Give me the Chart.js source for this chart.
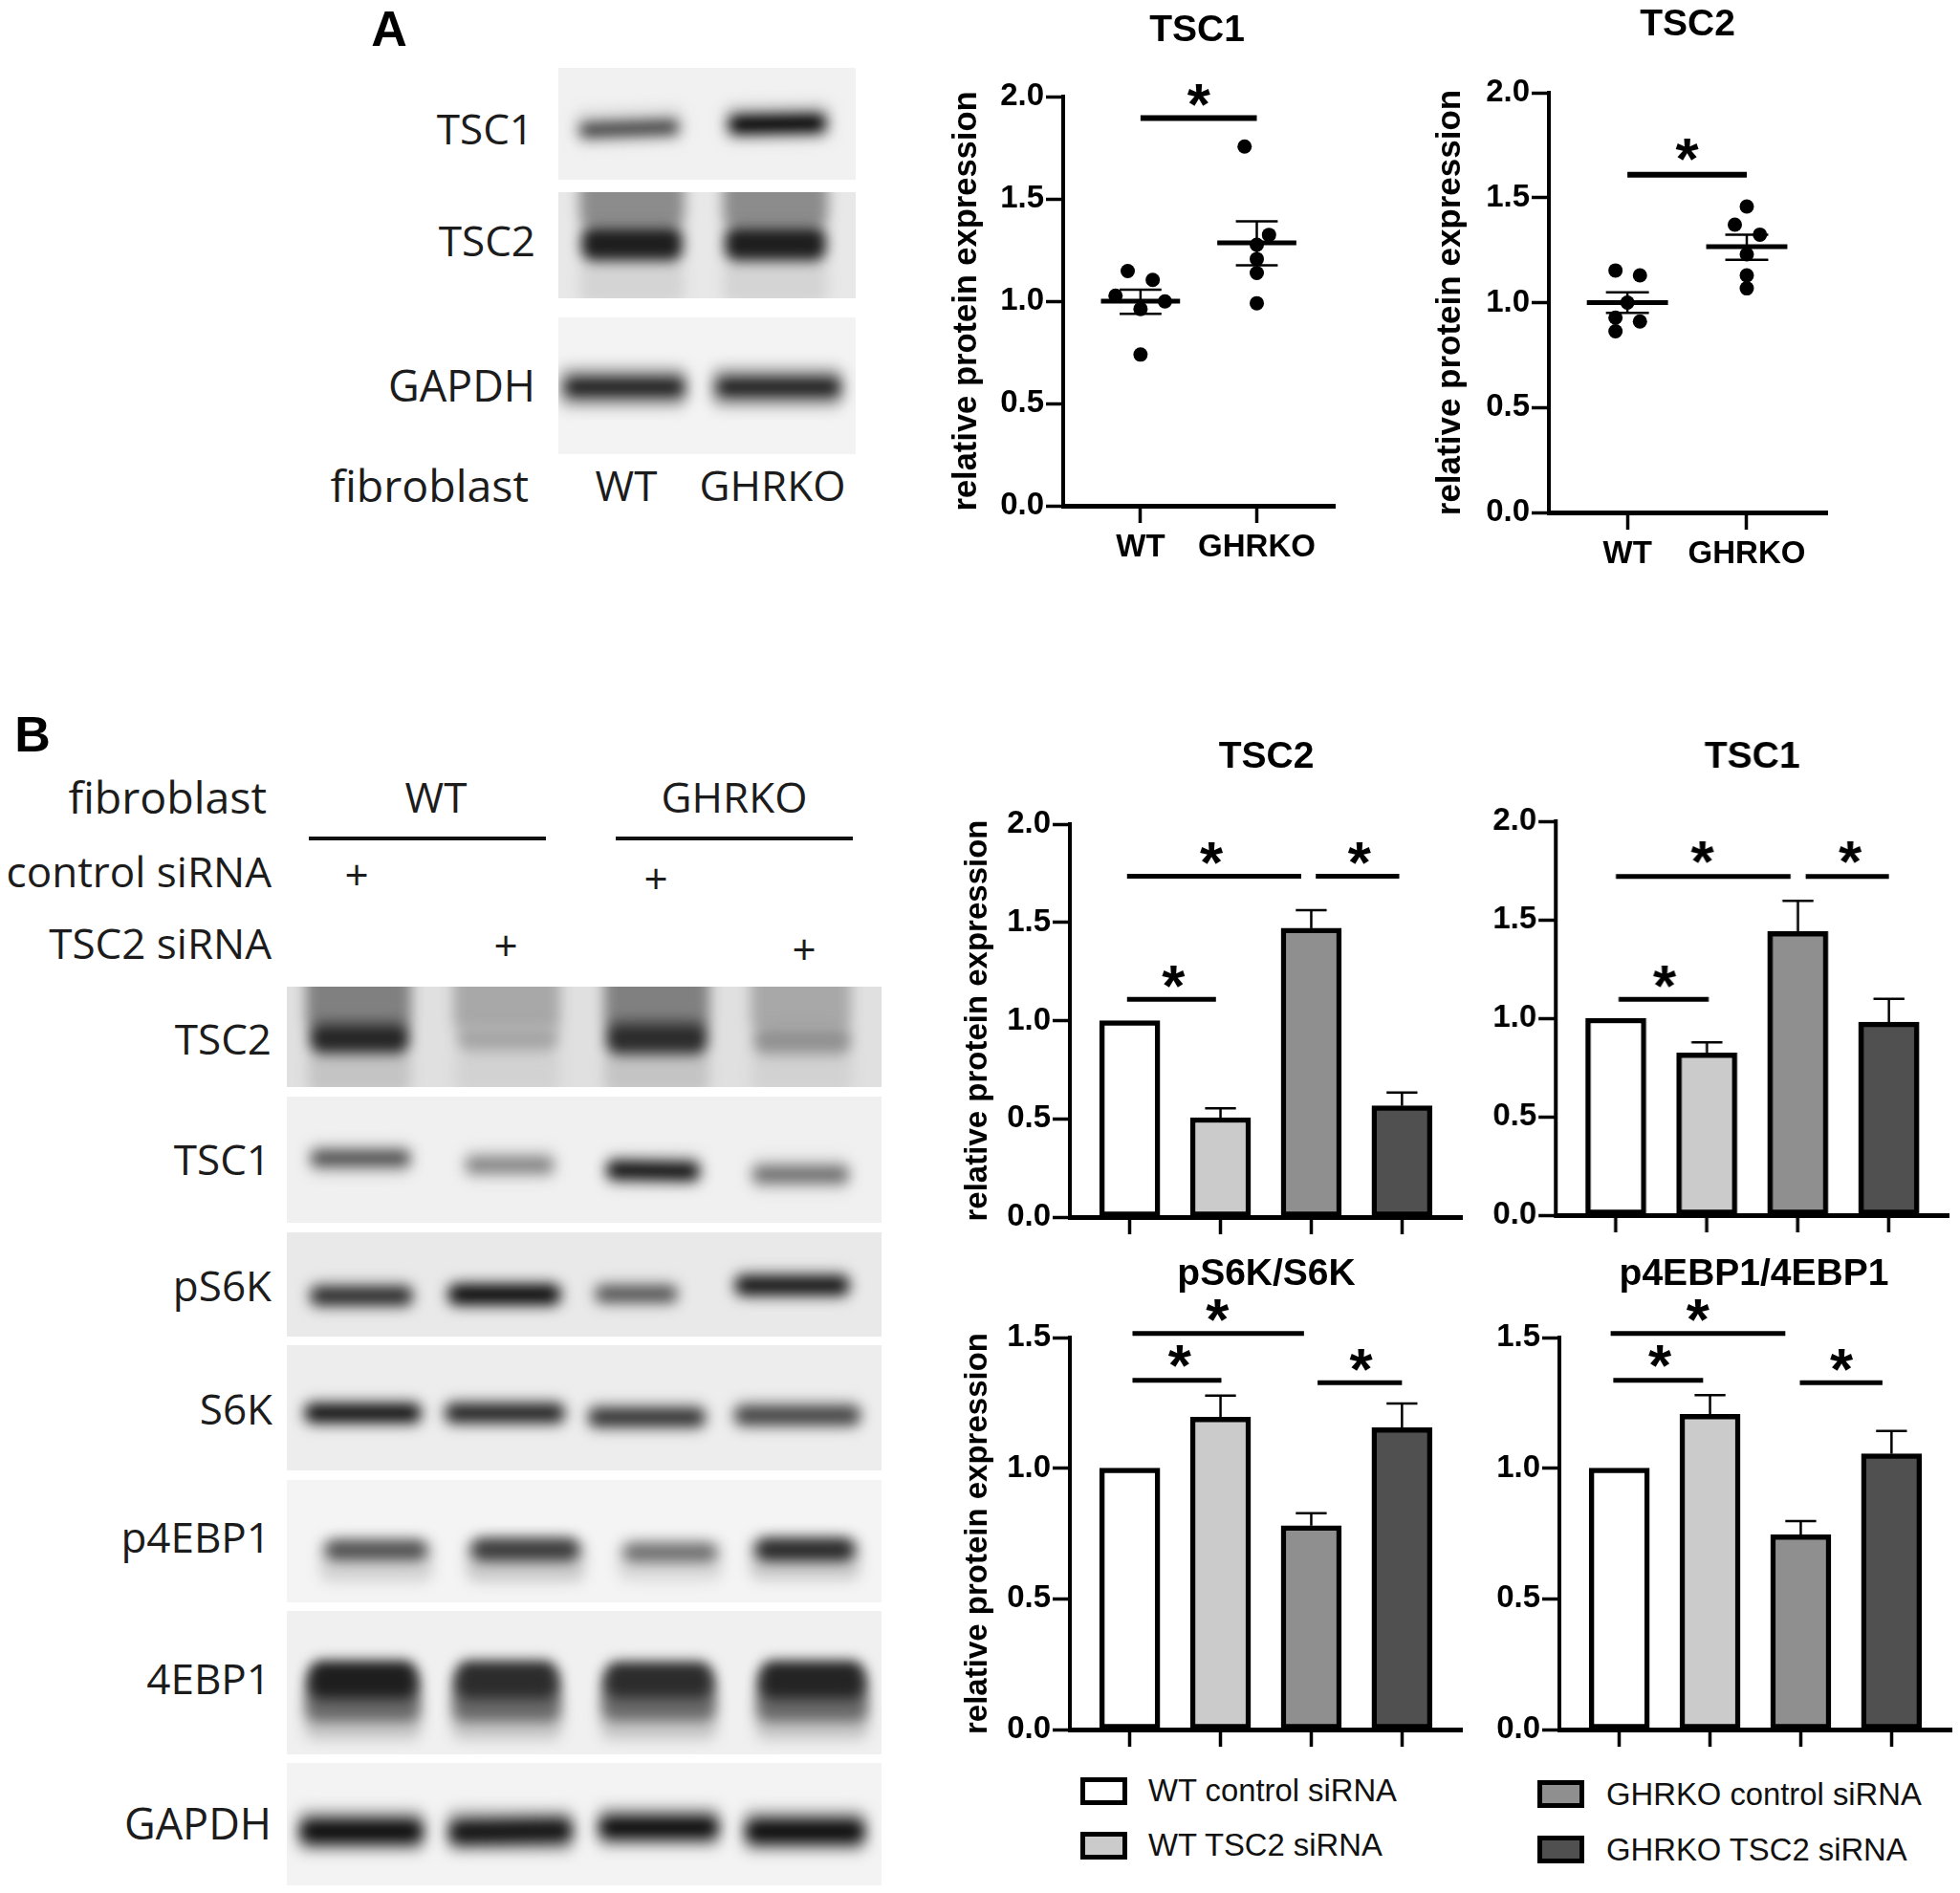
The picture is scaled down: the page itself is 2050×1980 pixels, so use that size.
<!DOCTYPE html>
<html>
<head>
<meta charset="utf-8">
<title>TSC1 / TSC2</title>
<script src="https://cdn.jsdelivr.net/npm/chart.js@4"></script>
<style>
  html, body { margin: 0; padding: 0; background: #fff; }
  #lienzo { position: relative; width: 2050px; height: 1980px; overflow: hidden; }
  canvas { position: absolute; }
  .txt { position: absolute; white-space: nowrap; font-family: "Open Sans", sans-serif; font-size: 44px; color: #1c1c1c; transform: translateY(-50%); line-height: 1; }
  .blot { position: absolute; overflow: hidden; }
  .banda { position: absolute; border-radius: 12px; filter: blur(7px); }
</style>
</head>
<body>
<div id="lienzo"></div>
<script>
// ===== DATOS PANEL A =====
const gruposA = ["WT", "GHRKO"];
const posGruposA = [1, 2];
const ticksY20 = [0, 0.5, 1, 1.5, 2];
const ticksY15 = [0, 0.5, 1, 1.5];
const ticksBarras = [0, 1, 2, 3];

const tsc1AX = [0.89, 1.105, 0.785, 1.21, 1, 1, 1.895, 2.105, 2, 2, 2, 2];
const tsc1AY = [1.147, 1.104, 1.027, 0.999, 0.962, 0.739, 1.756, 1.324, 1.276, 1.206, 1.138, 0.99];
const tsc1AMedia = [1.0, 1.285];
const tsc1ASup = [1.056, 1.39];
const tsc1AInf = [0.938, 1.175];
const tsc1ASig = [[1, 2, 1.895]];
const tsc1AEst = [[1.5, 2.0]];

const tsc2AX = [0.9, 1.105, 1, 0.9, 1.105, 0.9, 2, 1.9, 2.11, 2, 2, 2];
const tsc2AY = [1.153, 1.13, 1.0, 0.928, 0.91, 0.863, 1.458, 1.371, 1.324, 1.23, 1.13, 1.068];
const tsc2AMedia = [1.0, 1.267];
const tsc2ASup = [1.049, 1.324];
const tsc2AInf = [0.951, 1.204];
const tsc2ASig = [[1, 2, 1.609]];
const tsc2AEst = [[1.5, 1.72]];

// ===== DATOS PANEL B =====
const nombresBarras = ["WT control siRNA", "WT TSC2 siRNA", "GHRKO control siRNA", "GHRKO TSC2 siRNA"];
const coloresBarras = ["#ffffff", "#cbcbcb", "#8f8f8f", "#505050"];

const tsc2BValores = [1.0, 0.506, 1.47, 0.566];
const tsc2BError = [null, 0.554, 1.562, 0.634];
const tsc2BSig = [[-0.03, 1.89, 1.735], [2.05, 2.97, 1.735], [-0.03, 0.95, 1.108]];
const tsc2BEst = [[0.9, 1.845], [2.53, 1.845], [0.48, 1.218]];

const tsc1BValores = [1.0, 0.824, 1.44, 0.98];
const tsc1BError = [null, 0.878, 1.596, 1.098];
const tsc1BSig = [[0, 1.92, 1.72], [2.085, 3, 1.72], [0.03, 1.02, 1.096]];
const tsc1BEst = [[0.95, 1.835], [2.575, 1.835], [0.534, 1.205]];

const s6kValores = [1.0, 1.195, 0.78, 1.155];
const s6kError = [null, 1.278, 0.828, 1.248];
const s6kSig = [[0.03, 1.92, 1.516], [0.03, 1.01, 1.336], [2.07, 3, 1.327]];
const s6kEst = [[0.967, 1.597], [0.55, 1.425], [2.55, 1.41]];

const ebpValores = [1.0, 1.206, 0.745, 1.055];
const ebpError = [null, 1.28, 0.798, 1.142];
const ebpSig = [[-0.095, 1.83, 1.516], [-0.066, 0.924, 1.336], [1.99, 2.9, 1.327]];
const ebpEst = [[0.866, 1.597], [0.447, 1.425], [2.45, 1.41]];

const FUENTE = '"Liberation Sans", Arial, sans-serif';
const lienzo = document.getElementById("lienzo");

// ===== TEXTO SUELTO =====
function texto(str, pos, extra) {
    const d = document.createElement("div");
    d.className = "txt";
    d.textContent = str;
    d.style.top = pos.y + "px";
    if (pos.l !== undefined) d.style.left = pos.l + "px";
    if (pos.r !== undefined) d.style.right = (2050 - pos.r) + "px";
    if (pos.c !== undefined) { d.style.left = pos.c + "px"; d.style.transform = "translate(-50%,-50%)"; }
    if (extra) Object.assign(d.style, extra);
    lienzo.appendChild(d);
}

// ===== WESTERN BLOTS (fondo + bandas difuminadas) =====
function blot(x0, x1, y0, y1, fondo, bandas) {
    const d = document.createElement("div");
    d.className = "blot";
    d.style.cssText = `left:${x0}px;top:${y0}px;width:${x1 - x0}px;height:${y1 - y0}px;background:${fondo}`;
    bandas.forEach(b => {
        const e = document.createElement("div");
        e.className = "banda";
        e.style.cssText = `left:${b[0] - x0}px;top:${b[2] - b[3] / 2 - y0}px;width:${b[1] - b[0]}px;height:${b[3]}px;background:${b[4]}`;
        if (b[5]) e.style.transform = `rotate(${b[5]}deg)`;
        d.appendChild(e);
    });
    lienzo.appendChild(d);
}

// Panel A
blot(584, 895, 71, 187.5, "#f1f1f1", [
    [600, 716, 132, 38, "#dadada", -2], [606, 710, 134, 15, "#3c3c3c", -2],
    [756, 870, 128, 40, "#cccccc", -1], [762, 864, 129, 19, "#000", -1]]);
blot(584, 895, 201, 312, "#e8e8e8", [
    [606, 716, 296, 44, "#d4d4d4"], [606, 716, 200, 76, "#8c8c8c"], [608, 714, 255, 36, "#1e1e1e"],
    [756, 866, 296, 44, "#d4d4d4"], [756, 866, 200, 76, "#8c8c8c"], [758, 864, 255, 36, "#1e1e1e"]]);
blot(584, 895, 332, 475, "#f3f3f3", [
    [584, 720, 405, 44, "#b4b4b4"], [590, 716, 405, 20, "#1e1e1e"],
    [743, 883, 405, 44, "#b4b4b4"], [749, 879, 405, 20, "#1e1e1e"]]);

// Panel B
const X0B = 300, X1B = 922;
blot(X0B, X1B, 1032, 1137, "#e0e0e0", [
    [322, 430, 1122, 44, "#c4c4c4"], [320, 430, 1040, 76, "#808080"], [324, 428, 1086, 32, "#262626"],
    [476, 586, 1122, 44, "#d2d2d2"], [474, 586, 1040, 76, "#a8a8a8"], [478, 584, 1086, 28, "#a6a6a6"],
    [632, 742, 1122, 44, "#c4c4c4"], [632, 742, 1040, 76, "#808080"], [634, 740, 1086, 34, "#2c2c2c"],
    [786, 892, 1122, 44, "#d2d2d2"], [785, 890, 1040, 76, "#a8a8a8"], [788, 890, 1088, 30, "#929292"]]);
blot(X0B, X1B, 1147, 1279, "#f0f0f0", [
    [322, 432, 1212, 32, "#c8c8c8"], [326, 428, 1211, 13, "#3c3c3c"],
    [484, 582, 1218, 32, "#d2d2d2"], [488, 578, 1218, 13, "#787878"],
    [632, 735, 1224, 34, "#c0c0c0"], [635, 731, 1224, 17, "#080808", 1],
    [784, 890, 1228, 34, "#d2d2d2"], [788, 887, 1228, 15, "#666"]]);
blot(X0B, X1B, 1289, 1398, "#e9e9e9", [
    [322, 434, 1355, 30, "#b0b0b0"], [326, 430, 1355, 15, "#1c1c1c"],
    [466, 589, 1354, 30, "#b0b0b0"], [470, 585, 1354, 18, "#040404"],
    [620, 711, 1353, 28, "#c0c0c0"], [624, 707, 1353, 13, "#444"],
    [766, 891, 1344, 30, "#b0b0b0"], [770, 887, 1344, 17, "#0c0c0c"]]);
blot(X0B, X1B, 1407, 1538, "#ededed", [
    [316, 443, 1478, 30, "#b4b4b4"], [320, 439, 1478, 16, "#040404"],
    [463, 593, 1478, 30, "#b4b4b4"], [467, 589, 1478, 16, "#181818"],
    [613, 740, 1482, 30, "#b4b4b4"], [617, 736, 1482, 15, "#242424"],
    [766, 902, 1480, 30, "#b4b4b4"], [770, 898, 1480, 15, "#363636"]]);
blot(X0B, X1B, 1548, 1675.5, "#f4f4f4", [
    [334, 453, 1632, 46, "#d4d4d4"], [340, 447, 1621, 21, "#505050"],
    [487, 612, 1632, 46, "#cccccc"], [493, 606, 1621, 24, "#3c3c3c"],
    [646, 756, 1632, 44, "#dadada"], [652, 750, 1624, 20, "#707070"],
    [784, 900, 1630, 46, "#cccccc"], [790, 894, 1621, 24, "#2a2a2a"]]);
blot(X0B, X1B, 1685, 1834.5, "#f0f0f0", [
    [318, 441, 1795, 50, "#c8c8c8"], [320, 439, 1774, 54, "#6a6a6a"], [324, 435, 1757, 40, "#1e1e1e"],
    [472, 588, 1795, 50, "#c8c8c8"], [474, 586, 1774, 54, "#6a6a6a"], [478, 582, 1757, 40, "#2c2c2c"],
    [628, 750, 1795, 50, "#c8c8c8"], [630, 748, 1774, 52, "#6a6a6a"], [634, 744, 1757, 38, "#2c2c2c"],
    [790, 909, 1795, 50, "#c8c8c8"], [792, 907, 1774, 54, "#6a6a6a"], [796, 903, 1757, 40, "#242424"]]);
blot(X0B, X1B, 1844, 1972, "#f3f3f3", [
    [310, 446, 1915, 46, "#b4b4b4"], [314, 442, 1915, 25, "#101010"],
    [466, 602, 1915, 46, "#b4b4b4"], [470, 598, 1915, 25, "#161616", -1],
    [623, 755, 1911, 44, "#b4b4b4"], [627, 751, 1911, 23, "#0e0e0e"],
    [776, 908, 1915, 46, "#b4b4b4"], [780, 904, 1915, 25, "#101010"]]);

// Etiquetas de los blots
texto("A", { c: 407, y: 30 }, { font: `bold 52px ${FUENTE}`, color: "#000" });
texto("B", { c: 34, y: 768 }, { font: `bold 52px ${FUENTE}`, color: "#000" });
texto("TSC1", { r: 558, y: 134 });
texto("TSC2", { r: 560, y: 251 });
texto("GAPDH", { r: 560, y: 402 }, { fontSize: "45px" });
texto("fibroblast", { r: 553, y: 507 }, { fontSize: "46.5px" });
texto("WT", { c: 655, y: 507 });
texto("GHRKO", { c: 808, y: 507 });

texto("fibroblast", { r: 279, y: 833 }, { fontSize: "46.5px" });
texto("WT", { c: 456, y: 833 });
texto("GHRKO", { c: 768, y: 833 });
texto("control siRNA", { r: 284, y: 911 });
texto("TSC2 siRNA", { r: 284, y: 986 });
texto("+", { c: 373, y: 914 });
texto("+", { c: 529, y: 988 });
texto("+", { c: 686, y: 918 });
texto("+", { c: 841, y: 992 });
texto("TSC2", { r: 284, y: 1086 });
texto("TSC1", { r: 283, y: 1212 });
texto("pS6K", { r: 284, y: 1344 });
texto("S6K", { r: 285, y: 1473 });
texto("p4EBP1", { r: 283, y: 1607 });
texto("4EBP1", { r: 283, y: 1755 });
texto("GAPDH", { r: 284, y: 1906 }, { fontSize: "45px" });

[[323, 571], [644, 892]].forEach(l => {
    const d = document.createElement("div");
    d.style.cssText = `position:absolute;left:${l[0]}px;top:875px;width:${l[1] - l[0]}px;height:3.5px;background:#111`;
    lienzo.appendChild(d);
});

// ===== LEYENDA =====
const posLeyenda = [[1130, 1859, 1201, 1873], [1130, 1916, 1201, 1930], [1608, 1862, 1680, 1877], [1608, 1920, 1680, 1935]];
nombresBarras.forEach((nombre, i) => {
    const p = posLeyenda[i];
    const caja = document.createElement("div");
    caja.style.cssText = `position:absolute;box-sizing:border-box;left:${p[0]}px;top:${p[1]}px;width:49px;height:29px;border:5px solid #000;background:${coloresBarras[i]}`;
    lienzo.appendChild(caja);
    texto(nombre, { l: p[2], y: p[3] }, { font: `32.8px ${FUENTE}`, color: "#111" });
});

// ===== PLUGIN: títulos, errores, barras de significancia =====
function marcas(cfg) {
    return {
        id: "marcas",
        afterDatasetsDraw(chart) {
            const ctx = chart.ctx, xs = chart.scales.x, ys = chart.scales.y;
            ctx.save();
            ctx.strokeStyle = "#000";
            ctx.fillStyle = "#000";
            const linea = (x0, y0, x1, y1, w) => {
                ctx.lineWidth = w;
                ctx.beginPath(); ctx.moveTo(x0, y0); ctx.lineTo(x1, y1); ctx.stroke();
            };

            // Media +- SEM (graficos de puntos)
            if (cfg.media) {
                cfg.media.forEach((m, i) => {
                    const cx = posGruposA[i];
                    const px = xs.getPixelForValue(cx), sup = ys.getPixelForValue(cfg.sup[i]), inf = ys.getPixelForValue(cfg.inf[i]);
                    linea(xs.getPixelForValue(cx - 0.34), ys.getPixelForValue(m), xs.getPixelForValue(cx + 0.34), ys.getPixelForValue(m), 5);
                    linea(px, sup, px, inf, 2.5);
                    linea(xs.getPixelForValue(cx - 0.18), sup, xs.getPixelForValue(cx + 0.18), sup, 2.5);
                    linea(xs.getPixelForValue(cx - 0.18), inf, xs.getPixelForValue(cx + 0.18), inf, 2.5);
                });
            }

            // Error superior (graficos de barras)
            if (cfg.error) {
                cfg.error.forEach((e, i) => {
                    if (e === null) return;
                    const px = xs.getPixelForValue(i), sup = ys.getPixelForValue(e);
                    linea(px, ys.getPixelForValue(cfg.valores[i]), px, sup, 2.5);
                    linea(xs.getPixelForValue(i - 0.17), sup, xs.getPixelForValue(i + 0.17), sup, 2.5);
                });
            }

            // Lineas de significancia y asteriscos
            cfg.sig.forEach(s => linea(xs.getPixelForValue(s[0]), ys.getPixelForValue(s[2]), xs.getPixelForValue(s[1]), ys.getPixelForValue(s[2]), cfg.grosorSig));
            ctx.font = `bold 62px ${FUENTE}`;
            ctx.textAlign = "center";
            ctx.textBaseline = "alphabetic";
            cfg.est.forEach(e => ctx.fillText("*", xs.getPixelForValue(e[0]), ys.getPixelForValue(e[1]) + 29));

            // Titulo
            ctx.font = `bold 39px ${FUENTE}`;
            ctx.textBaseline = "middle";
            ctx.fillText(cfg.titulo, cfg.tituloX - cfg.left, cfg.tituloY - cfg.top);
            ctx.restore();
        }
    };
}

// ===== CREACION DE CADA GRAFICO =====
function crearGrafico(cfg) {
    const SUP = 100, INF = 72, DER = 10;
    const anchoEje = cfg.distTitulo + 20;
    const can = document.createElement("canvas");
    cfg.left = cfg.L - anchoEje;
    cfg.top = cfg.T - SUP;
    const w = cfg.R - cfg.L + anchoEje + DER, h = cfg.B - cfg.T + SUP + INF;
    can.width = w; can.height = h;
    can.style.cssText = `left:${cfg.left}px;top:${cfg.top}px;width:${w}px;height:${h}px`;
    lienzo.appendChild(can);

    new Chart(can, {
        type: cfg.tipo,
        data: { datasets: cfg.datasets },
        options: {
            responsive: false,
            animation: false,
            devicePixelRatio: 1,
            layout: { autoPadding: false, padding: { top: SUP, right: DER, left: 0, bottom: 0 } },
            plugins: { legend: { display: false }, tooltip: { enabled: false } },
            scales: {
                x: {
                    type: "linear",
                    offset: false,
                    min: cfg.xMin,
                    max: cfg.xMax,
                    afterBuildTicks: s => { s.ticks = cfg.xTicks.map(v => ({ value: v })); },
                    afterFit: s => { s.height = INF; },
                    grid: { display: true, offset: false, drawOnChartArea: false, tickLength: 18, tickWidth: 3.5, tickColor: "#000" },
                    border: { display: true, width: 5, color: "#000" },
                    ticks: {
                        autoSkip: false, maxRotation: 0, padding: 6, color: "#000",
                        font: { family: FUENTE, size: 33, weight: "bold" },
                        callback: (v, i) => (cfg.xNombres ? cfg.xNombres[i] : "")
                    }
                },
                y: {
                    min: 0,
                    max: cfg.yTicks[cfg.yTicks.length - 1],
                    afterBuildTicks: s => { s.ticks = cfg.yTicks.map(v => ({ value: v })); },
                    afterFit: s => { s.width = anchoEje; },
                    grid: { display: true, drawOnChartArea: false, tickLength: 18, tickWidth: 3.5, tickColor: "#000" },
                    border: { display: true, width: 4, color: "#000" },
                    ticks: {
                        padding: 2, color: "#000",
                        font: { family: FUENTE, size: 33, weight: "bold" },
                        callback: v => v.toFixed(1)
                    },
                    title: {
                        display: cfg.conTituloY, text: "relative protein expression", color: "#000", padding: 0,
                        font: { family: FUENTE, size: cfg.tamTituloY, weight: "bold" }
                    }
                }
            }
        },
        plugins: [marcas(cfg)]
    });
}

function puntos(xv, yv) {
    return [{ data: xv.map((x, i) => ({ x: x, y: yv[i] })), backgroundColor: "#000", borderWidth: 0, pointRadius: 7.5 }];
}
function barras(valores) {
    return [{
        data: valores.map((v, i) => ({ x: i, y: v })),
        backgroundColor: coloresBarras,
        borderColor: "#000",
        borderWidth: 5.5,
        borderSkipped: false,
        barThickness: 63
    }];
}

// Panel A: puntos
crearGrafico({
    tipo: "scatter", L: 1112, R: 1396, T: 101, B: 529, distTitulo: 101, conTituloY: true, tamTituloY: 34.5,
    xMin: 0.335, xMax: 2.67, xTicks: posGruposA, xNombres: gruposA, yTicks: ticksY20,
    datasets: puntos(tsc1AX, tsc1AY), media: tsc1AMedia, sup: tsc1ASup, inf: tsc1AInf,
    sig: tsc1ASig, est: tsc1AEst, grosorSig: 6, titulo: "TSC1", tituloX: 1252, tituloY: 32
});
crearGrafico({
    tipo: "scatter", L: 1620, R: 1911, T: 97, B: 536, distTitulo: 104, conTituloY: true, tamTituloY: 35,
    xMin: 0.342, xMax: 2.673, xTicks: posGruposA, xNombres: gruposA, yTicks: ticksY20,
    datasets: puntos(tsc2AX, tsc2AY), media: tsc2AMedia, sup: tsc2ASup, inf: tsc2AInf,
    sig: tsc2ASig, est: tsc2AEst, grosorSig: 6, titulo: "TSC2", tituloX: 1765, tituloY: 26
});

// Panel B: barras
crearGrafico({
    tipo: "bar", L: 1118.5, R: 1528.5, T: 862, B: 1273, distTitulo: 96, conTituloY: true, tamTituloY: 33,
    xMin: -0.66, xMax: 3.66, xTicks: ticksBarras, yTicks: ticksY20,
    datasets: barras(tsc2BValores), valores: tsc2BValores, error: tsc2BError,
    sig: tsc2BSig, est: tsc2BEst, grosorSig: 5, titulo: "TSC2", tituloX: 1324, tituloY: 792
});
crearGrafico({
    tipo: "bar", L: 1627, R: 2037.5, T: 859, B: 1271, distTitulo: 96, conTituloY: false, tamTituloY: 33,
    xMin: -0.66, xMax: 3.655, xTicks: ticksBarras, yTicks: ticksY20,
    datasets: barras(tsc1BValores), valores: tsc1BValores, error: tsc1BError,
    sig: tsc1BSig, est: tsc1BEst, grosorSig: 5, titulo: "TSC1", tituloX: 1832, tituloY: 792
});
crearGrafico({
    tipo: "bar", L: 1118.5, R: 1528.5, T: 1398.5, B: 1809, distTitulo: 96, conTituloY: true, tamTituloY: 33,
    xMin: -0.66, xMax: 3.66, xTicks: ticksBarras, yTicks: ticksY15,
    datasets: barras(s6kValores), valores: s6kValores, error: s6kError,
    sig: s6kSig, est: s6kEst, grosorSig: 5, titulo: "pS6K/S6K", tituloX: 1324, tituloY: 1333
});
crearGrafico({
    tipo: "bar", L: 1631, R: 2041, T: 1398.5, B: 1809, distTitulo: 96, conTituloY: false, tamTituloY: 33,
    xMin: -0.66, xMax: 3.66, xTicks: ticksBarras, yTicks: ticksY15,
    datasets: barras(ebpValores), valores: ebpValores, error: ebpError,
    sig: ebpSig, est: ebpEst, grosorSig: 5, titulo: "p4EBP1/4EBP1", tituloX: 1834.5, tituloY: 1333
});
</script>
</body>
</html>
